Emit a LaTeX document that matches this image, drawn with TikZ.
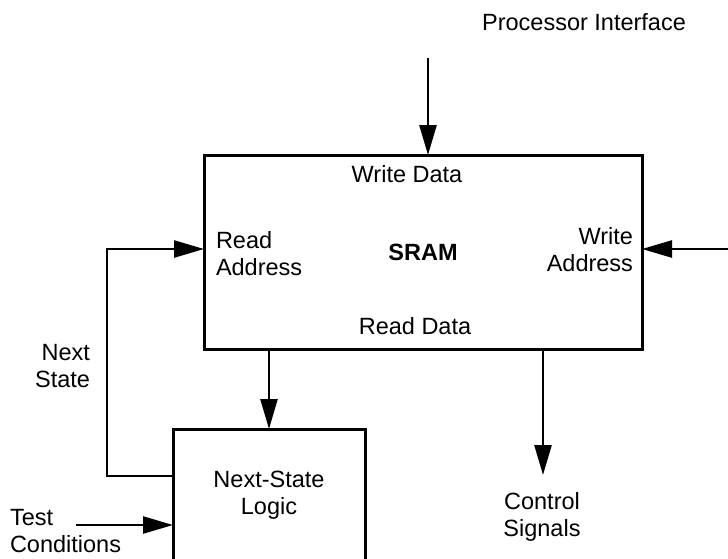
\documentclass[tikz,border=0pt]{standalone}
\usepackage{fontspec}
\setmainfont{Liberation Sans}
\usetikzlibrary{arrows.meta}

\begin{document}
\begin{tikzpicture}[x=1pt, y=-1pt, font=\fontsize{23.5}{27}\selectfont,
  every node/.style={inner sep=0pt, outer sep=0pt},
  blockbox/.style={draw, line width=3pt, align=center},
  wire/.style={line width=2.5pt, -{Triangle[length=30pt, width=17pt]}}]
\useasboundingbox (0, 0) rectangle (728, 558);
\node [blockbox, minimum width=438pt, minimum height=194pt] (sram) at (423, 252) {\textbf{SRAM}};
\node [blockbox, minimum width=192pt, minimum height=132pt] (nsl) at (269, 495) {Next-State\\Logic};
\node [anchor=north] (proc) at (584, 13) {Processor Interface};
\node [anchor=north] (wdata) at (407, 165) {Write Data};
\node [anchor=north] (rdata) at (415, 317) {Read Data};
\node [anchor=north west, align=left] (raddr) at (216, 231) {Read\\Address};
\node [anchor=north east, align=right] (waddr) at (633, 227) {Write\\Address};
\node [anchor=north east, align=right] (nstate) at (90, 344) {Next\\State};
\node [anchor=north, align=center] (ctrl) at (542, 492) {Control\\Signals};
\node [anchor=north west, align=left] (test) at (10, 509) {Test\\Conditions};
\coordinate (pin) at (428, 58);
\coordinate (win) at (728, 249);
\coordinate (cout) at (543, 475);
\coordinate (fb) at (107, 476);
\coordinate (tin) at (76, 525);
\draw [wire] (pin) -- (pin |- sram.north);
\draw [wire] (win) -- (win -| sram.east);
\draw [wire] (sram.south -| nsl.north) -- (nsl.north);
\draw [wire] (sram.south -| cout) -- (cout);
\draw [wire] (fb -| nsl.west) -- (fb) |- (win -| sram.west);
\draw [wire] (tin) -- (tin -| nsl.west);
\end{tikzpicture}
\end{document}
